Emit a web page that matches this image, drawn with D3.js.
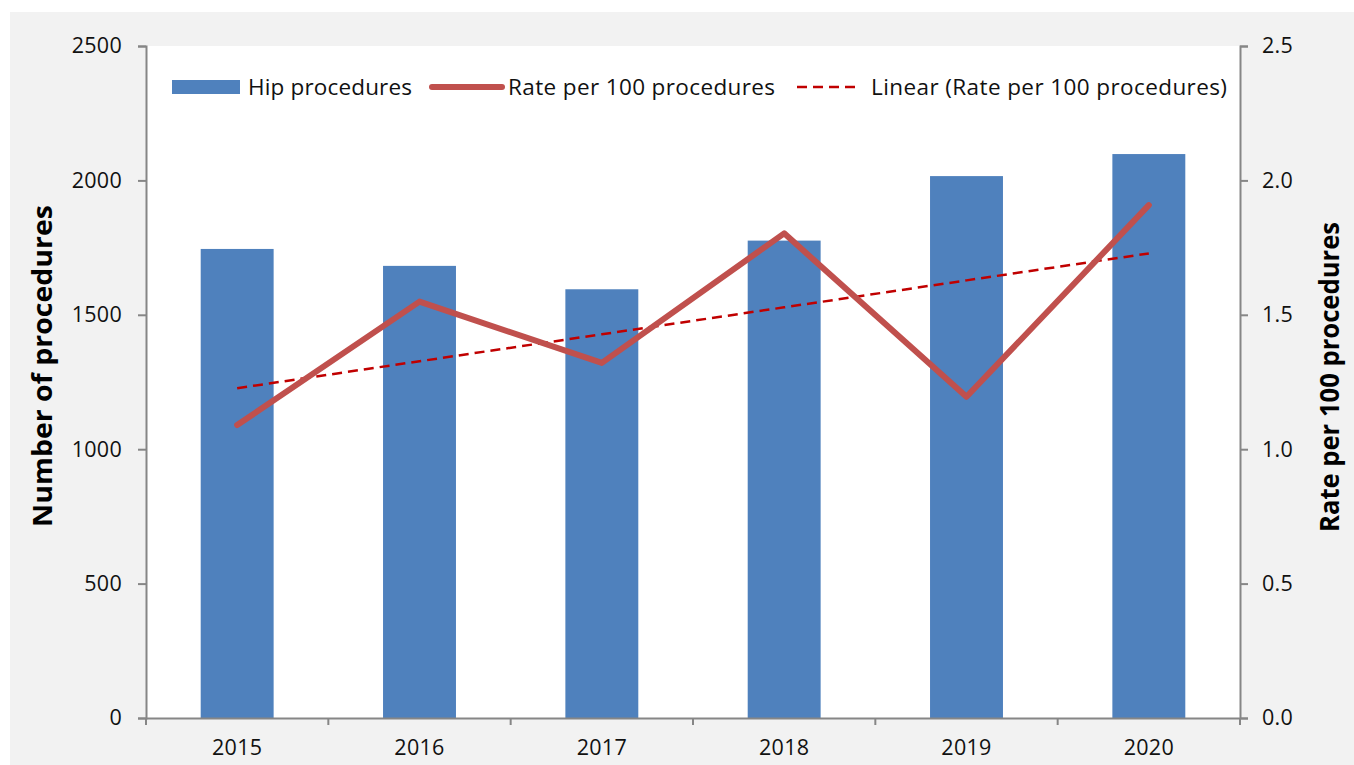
<!DOCTYPE html>
<html><head><meta charset="utf-8">
<script src="https://cdn.jsdelivr.net/npm/d3@7"></script>
<style>body{margin:0;background:#fff}svg{display:block}text{font-family:"Open Sans",Lato,sans-serif}</style>
</head><body>
<svg id="c" width="1354" height="765"></svg>
<script>
const years = ["2015","2016","2017","2018","2019","2020"];
const hipProcedures = [1745, 1682, 1595, 1776, 2016, 2098];
const ratePer100 = [1.090, 1.549, 1.321, 1.803, 1.195, 1.908];
const leftTicks = [0, 500, 1000, 1500, 2000, 2500];
const rightTicks = [0, 0.5, 1.0, 1.5, 2.0, 2.5];
const legendLabels = ["Hip procedures", "Rate per 100 procedures", "Linear (Rate per 100 procedures)"];

const svg = d3.select("#c");
svg.append("rect").attr("x",10).attr("y",12).attr("width",1344).attr("height",753).attr("fill","#f2f2f2");
const L=146, R=1240, T=46, B=718;
svg.append("rect").attr("x",L).attr("y",T).attr("width",R-L).attr("height",B-T).attr("fill","#fff");

const x = d3.scaleBand().domain(years).range([L,R]).paddingInner(0.6).paddingOuter(0.3);
const xb = d3.scaleBand().domain(years).range([L,R]);
const yL = d3.scaleLinear().domain([0,2500]).range([B,T]);
const yR = d3.scaleLinear().domain([0,2.5]).range([B,T]);

svg.selectAll("rect.bar").data(years).join("rect").attr("class","bar")
  .attr("x",d=>x(d)).attr("width",x.bandwidth())
  .attr("y",(d,i)=>yL(hipProcedures[i])).attr("height",(d,i)=>B-yL(hipProcedures[i]))
  .attr("fill","#4f81bd");

// linear trend (least squares like Excel trendline)
const n = ratePer100.length, xs = d3.range(1,n+1);
const mx = d3.mean(xs), my = d3.mean(ratePer100);
const slope = d3.sum(xs,(v,i)=>(v-mx)*(ratePer100[i]-my))/d3.sum(xs,v=>(v-mx)**2);
const icpt = my - slope*mx;
const cx = d => xb(d)+xb.bandwidth()/2;

svg.append("path").datum(years)
  .attr("d", d3.line().x(cx).y((d,i)=>yR(icpt+slope*(i+1))))
  .attr("fill","none").attr("stroke","#c00000").attr("stroke-width",2.5).attr("stroke-dasharray","10,6");

svg.append("path").datum(years)
  .attr("d", d3.line().x(cx).y((d,i)=>yR(ratePer100[i])))
  .attr("fill","none").attr("stroke","#c0504d").attr("stroke-width",6).attr("stroke-linejoin","round").attr("stroke-linecap","round");

// axes
const axisColor = "#868686";
const gL = svg.append("g").attr("transform",`translate(${L},0)`)
  .call(d3.axisLeft(yL).tickValues(leftTicks).tickSize(8).tickSizeOuter(8).tickPadding(16).tickFormat(d3.format("d")));
const gR = svg.append("g").attr("transform",`translate(${R},0)`)
  .call(d3.axisRight(yR).tickValues(rightTicks).tickSize(8).tickSizeOuter(8).tickPadding(14).tickFormat(d3.format(".1f")));
const gB = svg.append("g").attr("transform",`translate(0,${B})`)
  .call(d3.axisBottom(xb).tickSize(0).tickPadding(22));
svg.selectAll("line.ct").data(d3.range(0,years.length+1)).join("line").attr("class","ct")
  .attr("x1",i=>L+i*xb.step()).attr("x2",i=>L+i*xb.step()).attr("y1",B).attr("y2",B+7)
  .attr("stroke",axisColor).attr("stroke-width",2);
[gL,gR,gB].forEach(g=>{
  g.selectAll("path").attr("stroke",axisColor).attr("stroke-width",2);
  g.selectAll("line").attr("stroke",axisColor).attr("stroke-width",2);
  g.selectAll("text").attr("font-size",21.5).attr("letter-spacing",0.3).attr("fill","#111");
});
gB.selectAll("text").attr("dy","0.71em");

svg.append("text").attr("transform","translate(52,366) rotate(-90)").attr("text-anchor","middle")
  .attr("font-size",26).attr("font-weight","bold").attr("fill","#000")
  .attr("textLength",322).attr("lengthAdjust","spacingAndGlyphs").text("Number of procedures");
svg.append("text").attr("transform","translate(1339,377) rotate(-90)").attr("text-anchor","middle")
  .attr("font-size",26).attr("font-weight","bold").attr("fill","#000")
  .attr("textLength",310).attr("lengthAdjust","spacingAndGlyphs").text("Rate per 100 procedures");

// legend
const lg = svg.append("g").attr("font-size",22.5);
lg.append("rect").attr("x",172).attr("y",80).attr("width",68).attr("height",14).attr("fill","#4f81bd");
lg.append("text").attr("x",248).attr("y",87).attr("dy","0.35em").attr("fill","#111")
  .attr("textLength",164).attr("lengthAdjust","spacing").text(legendLabels[0]);
lg.append("line").attr("x1",432).attr("x2",502).attr("y1",87).attr("y2",87).attr("stroke","#c0504d").attr("stroke-width",6).attr("stroke-linecap","round");
lg.append("text").attr("x",508).attr("y",87).attr("dy","0.35em").attr("fill","#111")
  .attr("textLength",267).attr("lengthAdjust","spacing").text(legendLabels[1]);
lg.append("line").attr("x1",797).attr("x2",859).attr("y1",87).attr("y2",87).attr("stroke","#c00000").attr("stroke-width",2.5).attr("stroke-dasharray","10,6");
lg.append("text").attr("x",871).attr("y",87).attr("dy","0.35em").attr("fill","#111")
  .attr("textLength",356).attr("lengthAdjust","spacing").text(legendLabels[2]);
</script>
</body></html>
